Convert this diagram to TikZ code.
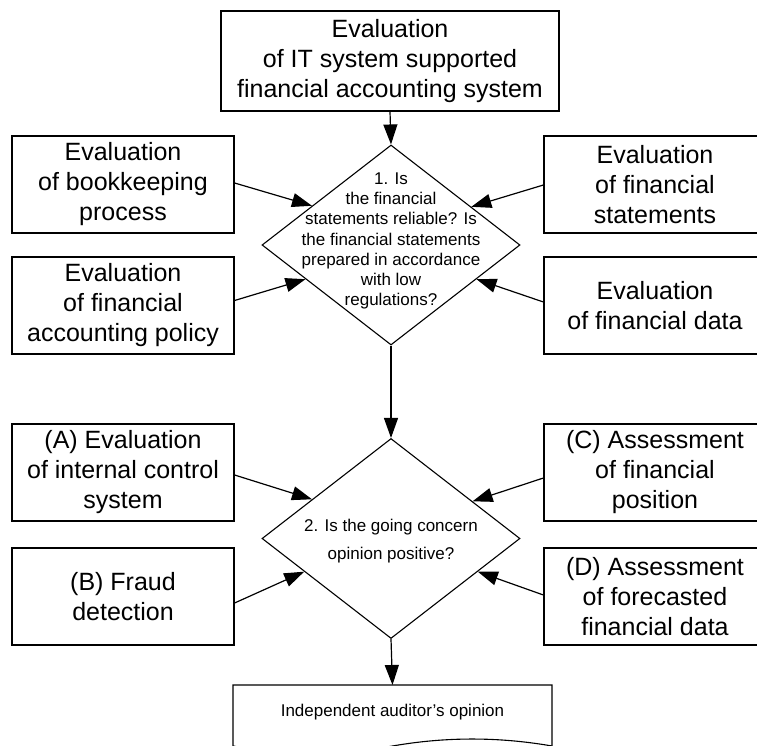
\documentclass[tikz,border=0pt]{standalone}
\usepackage{fontspec}
\setmainfont{Liberation Sans}
\usetikzlibrary{shapes.geometric,arrows.meta,calc}
\begin{document}
\begin{tikzpicture}[x=1pt,y=-1pt,
  box/.style={draw,line width=1.2pt,rectangle,minimum width=222pt,minimum height=97pt,inner sep=0pt,align=center,font=\fontsize{25}{30}\selectfont},
  dia/.style={draw,line width=1.1pt,diamond,minimum width=258pt,minimum height=200pt,inner sep=0pt},
  qtext/.style={align=center,font=\fontsize{17}{20.3}\selectfont,inner sep=0pt},
  arr/.style={line width=1.2pt,-{Triangle[length=20pt,width=14pt]}}]
\useasboundingbox (0,0) rectangle (757,746);
\clip (0,0) rectangle (757,746);
% top box
\node[box,minimum width=338pt,minimum height=100pt] (top) at (390,61) {Evaluation\\of IT system supported\\financial accounting system};
% diamonds
\node[dia] (d1) at (391,245) {};
\node[qtext] (t1) at (391,241) {1. Is\\the financial\\statements reliable? Is\\the financial statements\\prepared in accordance\\with low\\regulations?};
\node[dia] (d2) at (391,538.5) {};
\node[qtext,font=\fontsize{17}{27.7}\selectfont] (t2) at (391,541) {2. Is the going concern\\opinion positive?};
% side boxes
\node[box] (L1) at (123,184.5) {Evaluation\\of bookkeeping\\process};
\node[box] (L2) at (123,305.5) {Evaluation\\of financial\\accounting policy};
\node[box] (R1) at (655,184.5) {Evaluation\\of financial\\statements};
\node[box] (R2) at (655,305.5) {Evaluation\\of financial data};
\node[box] (A) at (123,472.5) {(A) Evaluation\\of internal control\\system};
\node[box] (B) at (123,596.5) {(B) Fraud\\detection};
\node[box] (C) at (655,472.5) {(C) Assessment\\of financial\\position};
\node[box] (D) at (655,596.5) {(D) Assessment\\of forecasted\\financial data};
% document
\coordinate (docN) at (392.5,685);
\draw[line width=1.1pt] (233,760) -- (233,685) -- (552,685) -- (552,746)
  .. controls (498.7,736.7) and (445.5,736.7) .. (392.5,746)
  .. controls (339.5,755.3) and (286,755.3) .. (233,746) -- cycle;
\node[inner sep=0pt,font=\fontsize{17}{20}\selectfont] (doc) at (392.5,712) {Independent auditor’s opinion};
% vertical arrows
\draw[arr] (top.south) -- (d1.north);
\draw[arr] (d1.south) -- (d2.north);
\draw[arr] (d2.south) -- (docN);
% diagonal arrows to diamond 1
\draw[arr] ($(L1.east)+(0,-1.5)$) -- ($(d1.west)!0.39!(d1.north)$);
\draw[arr] ($(L2.east)+(0,-5)$) -- ($(d1.west)!0.34!(d1.south)$);
\draw[arr] ($(R1.west)+(0,0.5)$) -- ($(d1.east)!0.38!(d1.north)$);
\draw[arr] ($(R2.west)+(0,-3.5)$) -- ($(d1.east)!0.34!(d1.south)$);
% diagonal arrows to diamond 2
\draw[arr] ($(A.east)+(0,2.5)$) -- ($(d2.west)!0.39!(d2.north)$);
\draw[arr] ($(B.east)+(0,6.5)$) -- ($(d2.west)!0.33!(d2.south)$);
\draw[arr] ($(C.west)+(0,5.5)$) -- ($(d2.east)!0.37!(d2.north)$);
\draw[arr] ($(D.west)+(0,-1.5)$) -- ($(d2.east)!0.33!(d2.south)$);
\end{tikzpicture}
\end{document}
